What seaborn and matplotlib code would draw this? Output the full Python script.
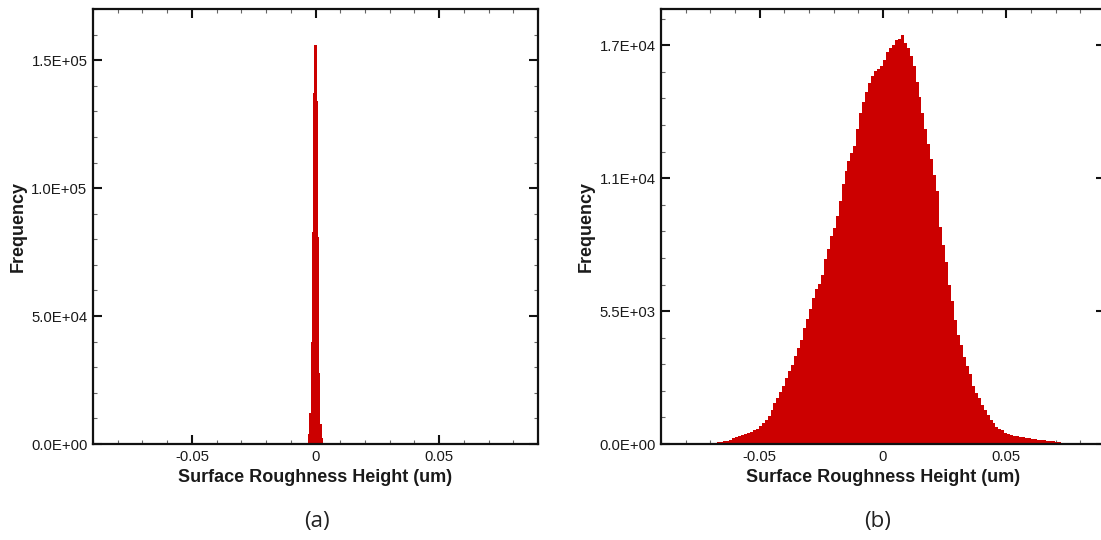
import numpy as np
import pandas as pd
import matplotlib
matplotlib.use("Agg")
import matplotlib.pyplot as plt
from matplotlib.ticker import MultipleLocator, FixedLocator, FixedFormatter
import seaborn as sns

# ---------------- data ----------------
# Panel (a): very narrow height distribution
a_bin_start = -0.0030
a_bin_width = 0.0005
a_counts = [4000, 12000, 40000, 83000, 137000, 156000,
            156000, 134000, 81000, 27700, 8000, 2500]

# Panel (b): wider height distribution
b_bin_start = -0.0696
b_bin_width = 0.0012
b_counts = [50, 60, 75, 88, 105, 140, 185, 235, 280, 325,
            370, 420, 470, 515, 565, 640, 740, 870, 1000, 1170,
            1420, 1700, 1900, 2170, 2420, 2720, 3040, 3275, 3660, 3960,
            4300, 4780, 5180, 5580, 6050, 6400, 6620, 7000, 7650, 8080,
            8600, 8940, 9450, 10050, 10750, 11300, 11700, 12050, 12330, 13050,
            13700, 14150, 14560, 14920, 15220, 15420, 15530, 15650, 15900, 16220,
            16380, 16520, 16720, 16750, 16930, 16600, 16380, 16050, 15650, 15000,
            14350, 13700, 13050, 12400, 11800, 11150, 10450, 9000, 8250, 7550,
            6600, 5900, 5150, 4500, 4100, 3600, 3220, 2900, 2400, 2100,
            1900, 1600, 1400, 1200, 1000, 860, 720, 630, 560, 470,
            420, 370, 335, 315, 300, 280, 260, 235, 210, 190,
            175, 160, 145, 130, 115, 105, 95, 75, 55, 30]

x_ticks = [-0.05, 0.0, 0.05]
x_ticklabels = ["-0.05", "0", "0.05"]
a_yticks = [0, 50000, 100000, 150000]
a_yticklabels = ["0.0E+00", "5.0E+04", "1.0E+05", "1.5E+05"]
b_yticks = [0, 5500, 11000, 16500]
b_yticklabels = ["0.0E+00", "5.5E+03", "1.1E+04", "1.7E+04"]
panel_labels = ["(a)", "(b)"]
xlabel = "Surface Roughness Height (um)"
ylabel = "Frequency"

# ---------------- style ----------------
sns.set_style("ticks")
plt.rcParams["font.family"] = ["Liberation Sans", "DejaVu Sans"]

RED = "#cc0000"
TXT = "#1a1a1a"

fig = plt.figure(figsize=(11.01, 5.40), dpi=100)
W, H = 1101, 540
ax_a = fig.add_axes([93 / W, (H - 444) / H, 445 / W, 435 / H])
ax_b = fig.add_axes([661 / W, (H - 444) / H, 444 / W, 435 / H])


def build(start, width, counts):
    n = len(counts)
    edges = np.round(start + width * np.arange(n + 1), 6)
    centers = (edges[:-1] + edges[1:]) / 2
    df = pd.DataFrame({"height": centers, "count": np.asarray(counts, float)})
    return df, [float(e) for e in edges]


def style_axes(ax, yticks, yticklabels, ylim, yminor):
    ax.set_xlim(-0.09, 0.09)
    ax.set_ylim(*ylim)
    ax.xaxis.set_major_locator(FixedLocator(x_ticks))
    ax.xaxis.set_major_formatter(FixedFormatter(x_ticklabels))
    ax.xaxis.set_minor_locator(MultipleLocator(0.01))
    ax.yaxis.set_major_locator(FixedLocator(yticks))
    ax.yaxis.set_major_formatter(FixedFormatter(yticklabels))
    ax.yaxis.set_minor_locator(MultipleLocator(yminor))
    ax.tick_params(which="both", direction="in", top=True, right=True,
                   bottom=True, left=True, colors="#111111",
                   labelcolor=TXT, labelsize=10.7, pad=4)
    ax.tick_params(which="major", length=6.5, width=1.5)
    ax.tick_params(which="minor", length=3.0, width=0.8, colors="#666666")
    for sp in ax.spines.values():
        sp.set_visible(True)
        sp.set_linewidth(1.6)
        sp.set_color("#111111")
    ax.set_xlabel(xlabel, fontsize=13, fontweight="bold", color=TXT)
    ax.set_ylabel(ylabel, fontsize=13, fontweight="bold", color=TXT)
    ax.xaxis.set_label_coords(0.5, -0.077)
    ax.xaxis.label.set_va("center")
    ax.yaxis.set_label_coords(-0.168, 0.5)
    ax.yaxis.label.set_va("center")
    ax.set_facecolor("white")


dfa, ea = build(a_bin_start, a_bin_width, a_counts)
sns.histplot(data=dfa, x="height", weights="count", bins=ea, element="step",
             fill=True, color=RED, alpha=1, linewidth=0, ax=ax_a)
style_axes(ax_a, a_yticks, a_yticklabels, (0, 170000), 10000)

dfb, eb = build(b_bin_start, b_bin_width, b_counts)
sns.histplot(data=dfb, x="height", weights="count", bins=eb, element="step",
             fill=True, color=RED, alpha=1, linewidth=0, ax=ax_b)
style_axes(ax_b, b_yticks, b_yticklabels, (0, 18000), 1100)

fig.text(317 / W, 1 - 522 / H, panel_labels[0], ha="center", va="center",
         fontsize=16, family="Open Sans", color="#222222")
fig.text(878 / W, 1 - 522 / H, panel_labels[1], ha="center", va="center",
         fontsize=16, family="Open Sans", color="#222222")

fig.savefig("out.png", dpi=100, facecolor="white")
